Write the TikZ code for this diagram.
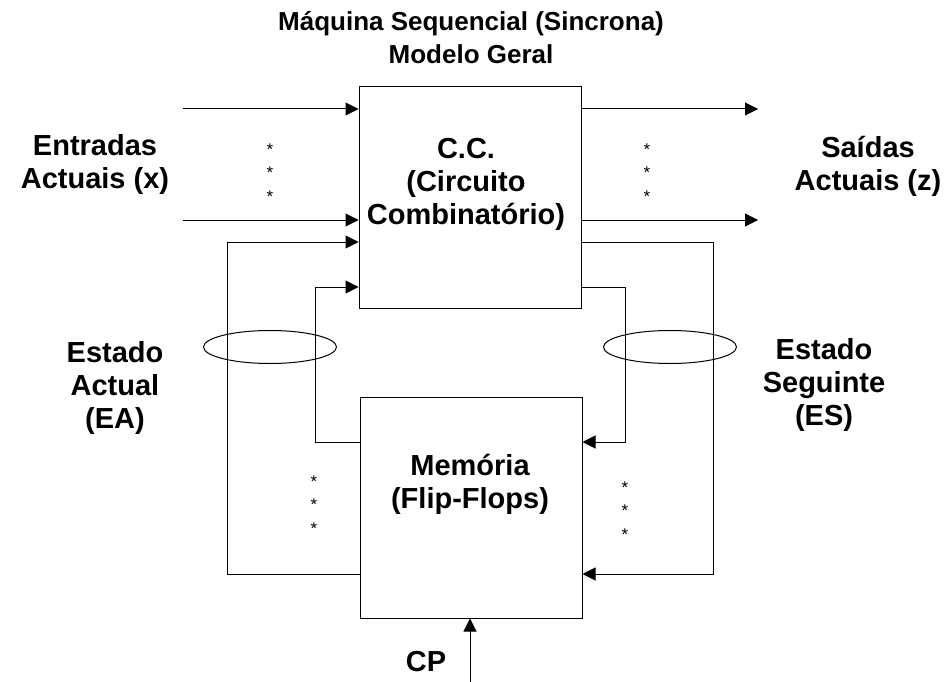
\documentclass[tikz,border=0pt]{standalone}
\usepackage{fontspec}
\setmainfont{Liberation Sans}
\usetikzlibrary{arrows.meta,shapes.geometric}

\begin{document}
\begin{tikzpicture}[
        x=1pt, y=-1pt,
        line width=1pt,
        >={Triangle[length=13pt,width=13pt]},
        block/.style={draw, minimum width=222pt, minimum height=221pt, inner sep=0pt},
        lbl/.style={font=\fontsize{29}{33}\selectfont\bfseries, align=center},
        ast/.style={font=\fontsize{17}{18}\selectfont, inner sep=0pt},
        bus/.style={draw, ellipse, minimum width=133pt, minimum height=33pt, inner sep=0pt}
    ]
    \useasboundingbox (0,0) rectangle (947,682);

    \node[lbl, font=\fontsize{26}{33}\selectfont\bfseries] (title) at (471,38)
        {Máquina Sequencial (Sincrona)\\Modelo Geral};

    % combinational part and memory
    \node[block] (cc) at (470,197.5) {};
    \node[block] (mem) at (471,507.5) {};
    \node[lbl] (cctxt) at (466,184) {C.C.\\(Circuito\\Combinatório)};
    \node[lbl] (memtxt) at (470,484) {Memória\\(Flip-Flops)};

    % inputs and outputs
    \coordinate (in1) at (183,109);
    \coordinate (in2) at (183,220);
    \coordinate (out1) at (758,109);
    \coordinate (out2) at (758,220);
    \draw[->] (in1) -- (in1 -| cc.west);
    \draw[->] (in2) -- (in2 -| cc.west);
    \draw[->] (out1 -| cc.east) -- (out1);
    \draw[->] (out2 -| cc.east) -- (out2);
    \node[lbl] (inlbl) at (95,165) {Entradas\\Actuais (x)};
    \node[lbl] (outlbl) at (868,166) {Saídas\\Actuais (z)};

    % state feedback
    \coordinate (ea1) at (227,574);
    \coordinate (ea2) at (227,242);
    \coordinate (ea3) at (315,442);
    \coordinate (ea4) at (315,287);
    \coordinate (es1) at (713,242);
    \coordinate (es2) at (713,574);
    \coordinate (es3) at (625,287);
    \coordinate (es4) at (625,442);
    \draw[->] (ea1 -| mem.west) -- (ea1) -- (ea2) -- (ea2 -| cc.west);
    \draw[->] (ea3 -| mem.west) -- (ea3) -- (ea4) -- (ea4 -| cc.west);
    \draw[->] (es1 -| cc.east) -- (es1) -- (es2) -- (es2 -| mem.east);
    \draw[->] (es3 -| cc.east) -- (es3) -- (es4) -- (es4 -| mem.east);

    \node[bus] (busea) at (270,347) {};
    \node[bus] (buses) at (670,347) {};
    \node[lbl] (ealbl) at (115,388) {Estado\\Actual\\(EA)};
    \node[lbl] (eslbl) at (824,385) {Estado\\Seguinte\\(ES)};

    % dots for the omitted lines
    \foreach \y in {150,173,197} {
        \node[ast] at (270,\y) {*};
        \node[ast] at (647,\y) {*};
    }
    \foreach \y in {482,505,529} \node[ast] at (314,\y) {*};
    \foreach \y in {488,511,535} \node[ast] at (625,\y) {*};

    % clock
    \coordinate (clk) at (470,682);
    \draw[->] (clk) -- (clk |- mem.south);
    \node[lbl] (cp) at (426,662) {CP};
\end{tikzpicture}
\end{document}
